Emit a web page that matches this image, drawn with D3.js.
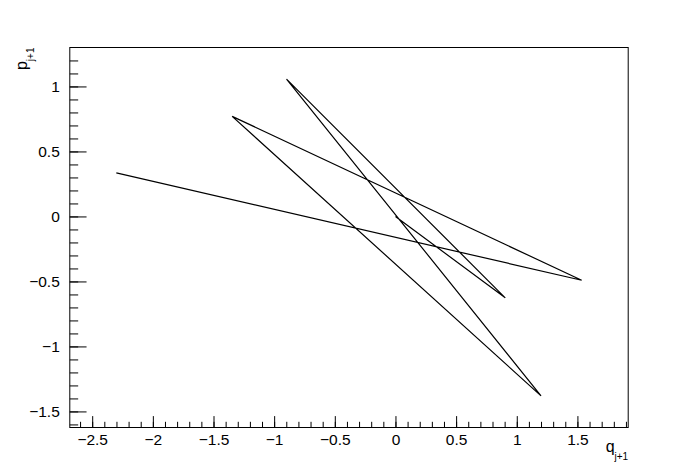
<!DOCTYPE html>
<html>
<head>
<meta charset="UTF-8">
<title>Phasenraum q-p</title>
<script src="https://d3js.org/d3.v7.min.js"></script>
<style>
  body { margin: 0; background: #fff; }
  svg { font-family: "Liberation Sans", Arial, Helvetica, sans-serif; }
  .tick text { font-size: 15.5px; fill: #000; }
  .tick line { stroke: #000; }
</style>
</head>
<body>
<svg width="698" height="475"></svg>
<script>
// Punkte der Trajektorie (q_j+1, p_j+1)
const qValues = [0, 0.905, -0.898, 1.2, -1.346, 1.535, -2.301];
const pValues = [0, -0.626, 1.056, -1.380, 0.770, -0.491, 0.335];

const xTicks = [-2.5, -2, -1.5, -1, -0.5, 0, 0.5, 1, 1.5];
const yTicks = [-1.5, -1, -0.5, 0, 0.5, 1];

const svg = d3.select("svg");
const W = +svg.attr("width"), H = +svg.attr("height");
// Rahmen wie bei ROOT: 10% Rand auf jeder Seite
const fL = W * 0.1, fR = W * 0.9, fT = H * 0.1, fB = H * 0.9;

// Achsenbereich: Datenbereich plus 10% auf beiden Seiten
function padded(vals) {
  const lo = d3.min(vals), hi = d3.max(vals), d = hi - lo;
  return [lo - 0.1 * d, hi + 0.1 * d];
}

const x = d3.scaleLinear().domain(padded(qValues)).range([fL, fR]);
const y = d3.scaleLinear().domain(padded(pValues)).range([fB, fT]);

const minorX = d3.range(-27, 20).map(i => i / 10).filter(v => v >= x.domain()[0] && v <= x.domain()[1]);
const minorY = d3.range(-17, 14).map(i => i / 10).filter(v => v >= y.domain()[0] && v <= y.domain()[1]);

const fmt = d3.format("~g");
const xTick = (fB - fT) * 0.03;
const yTick = (fR - fL) * 0.03;

// kleine Striche
svg.append("g")
  .attr("transform", `translate(0,${fB})`)
  .call(d3.axisBottom(x).tickValues(minorX).tickSize(-xTick / 2).tickFormat(""))
  .call(g => g.select(".domain").remove());
svg.append("g")
  .attr("transform", `translate(${fL},0)`)
  .call(d3.axisLeft(y).tickValues(minorY).tickSize(-yTick / 2).tickFormat(""))
  .call(g => g.select(".domain").remove());

// x-Achse
svg.append("g")
  .attr("transform", `translate(0,${fB})`)
  .call(d3.axisBottom(x).tickValues(xTicks).tickSize(-xTick).tickPadding(6).tickFormat(fmt))
  .call(g => g.select(".domain").remove());

// y-Achse
svg.append("g")
  .attr("transform", `translate(${fL},0)`)
  .call(d3.axisLeft(y).tickValues(yTicks).tickSize(-yTick).tickPadding(10).tickFormat(fmt))
  .call(g => g.select(".domain").remove());

// Rahmen
svg.append("rect")
  .attr("x", fL).attr("y", fT)
  .attr("width", fR - fL).attr("height", fB - fT)
  .attr("fill", "none").attr("stroke", "#000").attr("stroke-width", 1);

// Linie
const line = d3.line()
  .x((d, i) => x(qValues[i]))
  .y((d, i) => y(pValues[i]));

svg.append("path")
  .datum(qValues)
  .attr("d", line)
  .attr("fill", "none")
  .attr("stroke", "#000")
  .attr("stroke-width", 1.2);

// Achsentitel
const xt = svg.append("text")
  .attr("x", fR).attr("y", fB + 24)
  .attr("text-anchor", "end")
  .attr("font-size", 16);
xt.append("tspan").text("q");
xt.append("tspan").attr("font-size", 10).attr("dy", 8).text("j+1");

const yt = svg.append("text")
  .attr("transform", `translate(27,${fT}) rotate(-90)`)
  .attr("text-anchor", "end")
  .attr("font-size", 16);
yt.append("tspan").text("p");
yt.append("tspan").attr("font-size", 10).attr("dy", 7).text("j+1");
</script>
</body>
</html>
